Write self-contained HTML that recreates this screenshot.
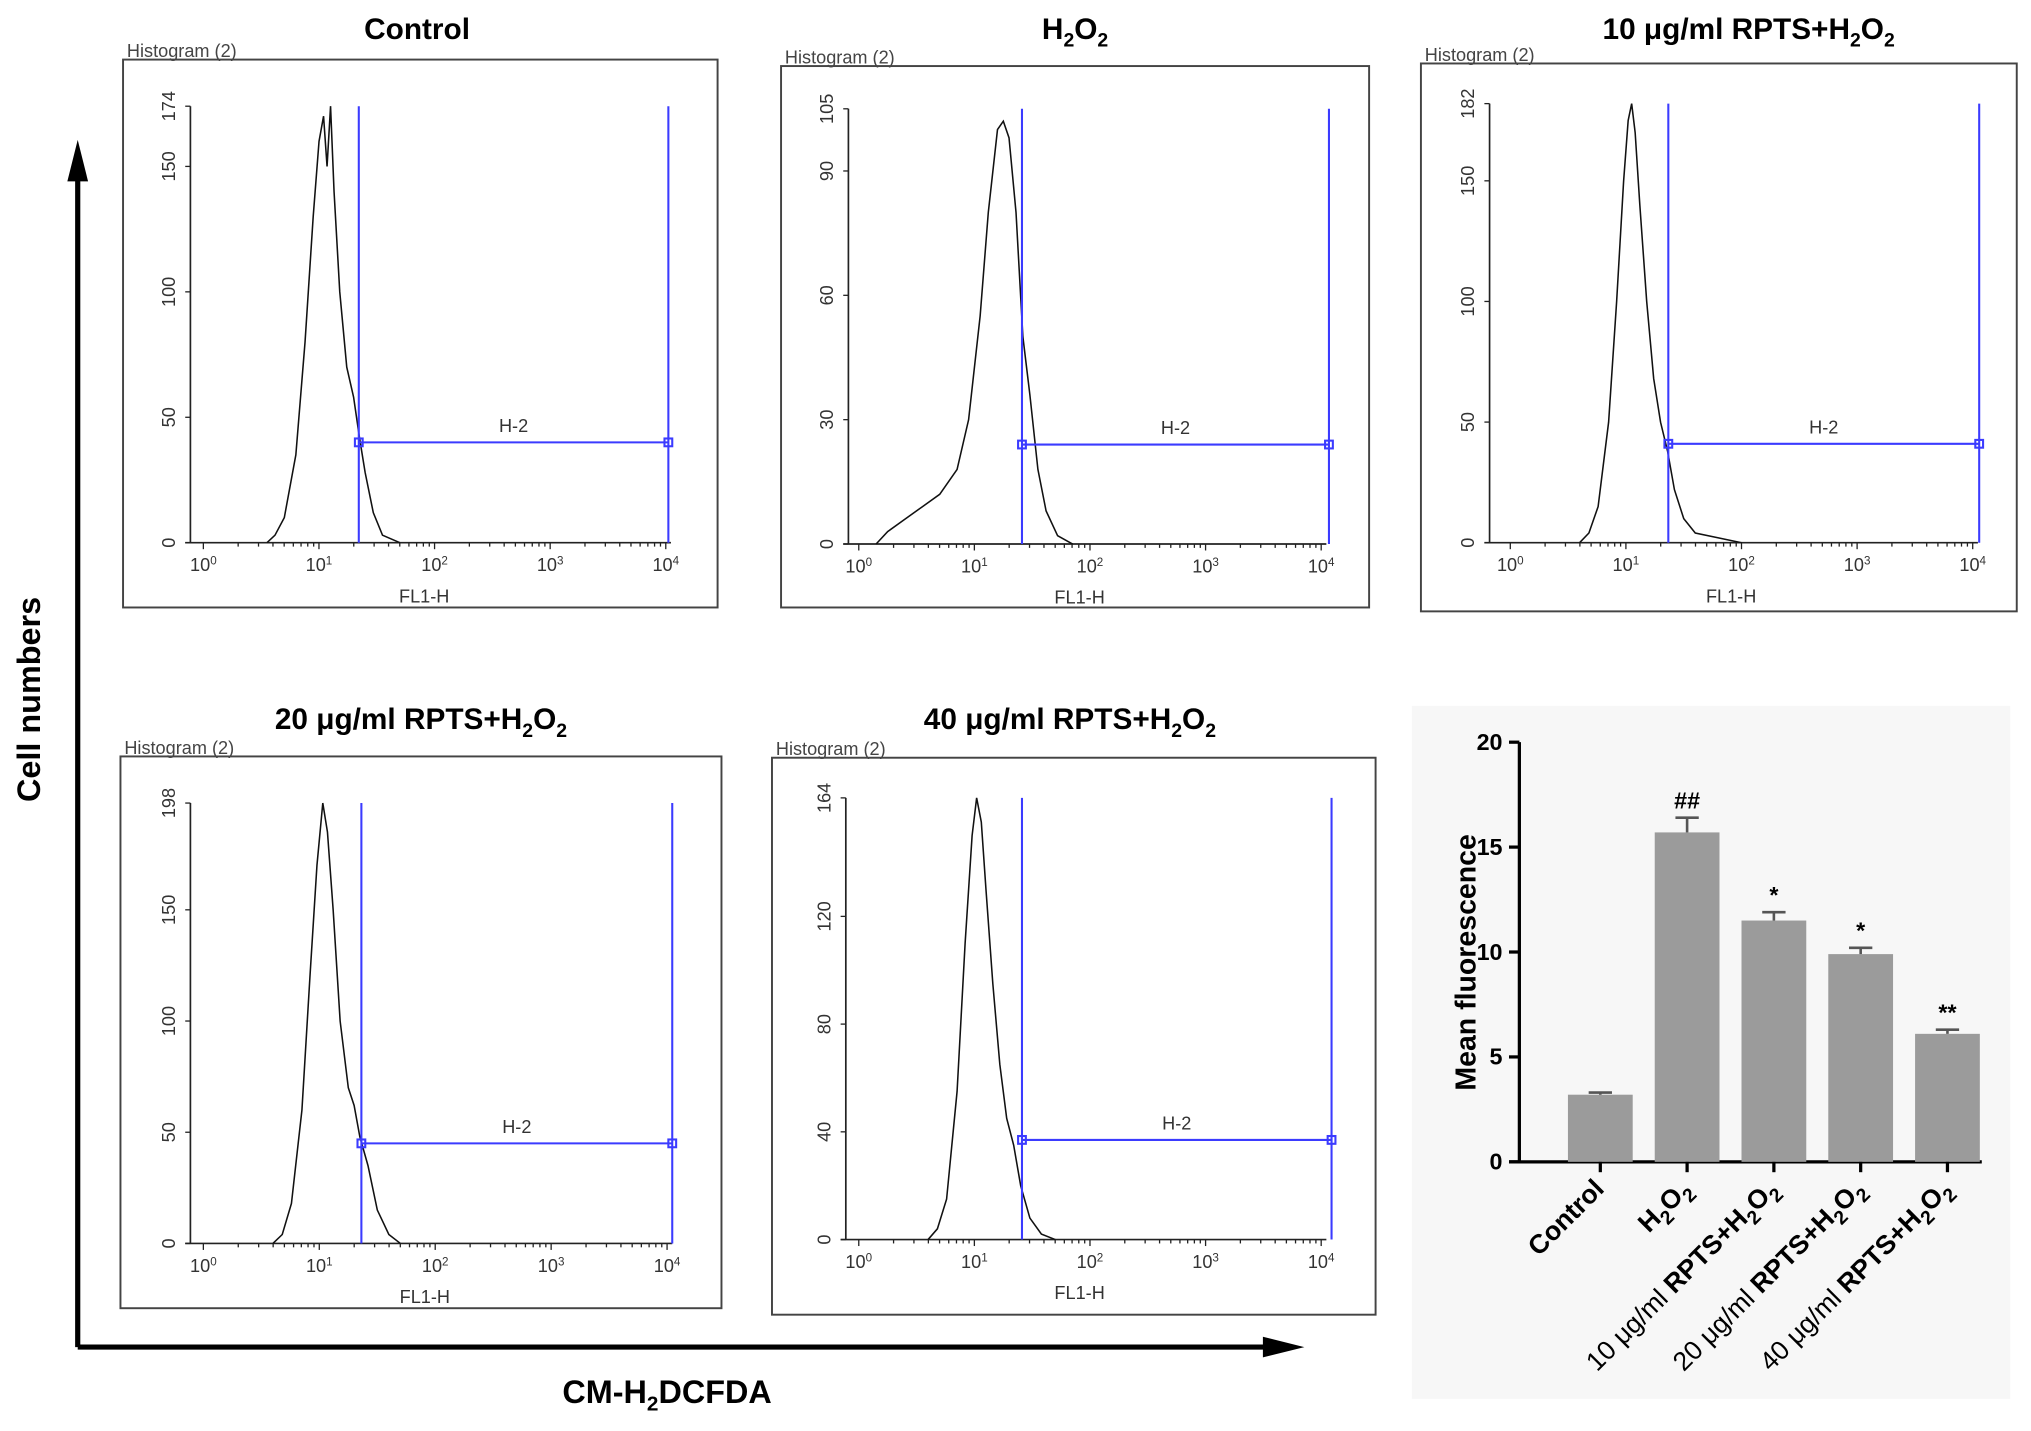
<!DOCTYPE html>
<html><head><meta charset="utf-8"><style>
html,body{margin:0;padding:0;background:#fff;width:2031px;height:1431px;overflow:hidden}
svg{display:block;font-family:"Liberation Sans",Arial,sans-serif}
</style></head><body>
<svg id="fig" width="2031" height="1431" viewBox="0 0 1568 1104.8" preserveAspectRatio="none" xmlns="http://www.w3.org/2000/svg">
<rect x="1090" y="545" width="462" height="535" fill="#f7f7f7"/>
<g>
<line x1="60" y1="1040" x2="60" y2="130" stroke="#000" stroke-width="4"/>
<polygon points="52,140 68,140 60,108" fill="#000"/>
</g>
<g>
<line x1="60" y1="1040" x2="985" y2="1040" stroke="#000" stroke-width="4"/>
<polygon points="975,1032 975,1048 1007,1040" fill="#000"/>
</g>
<text x="31" y="540" transform="rotate(-90 31 540)" text-anchor="middle" font-size="25" font-weight="bold">Cell numbers</text>
<text x="515" y="1083" text-anchor="middle" font-size="25" font-weight="bold">CM-H<tspan font-size="16" dy="6">2</tspan><tspan dy="-6">DCFDA</tspan></text>
<g id="hists"></g>
<g id="bars"></g>
</svg>
<script>
// ---- Histogram data ----
const histTitles = ["Control","H2O2","10 μg/ml RPTS+H2O2","20 μg/ml RPTS+H2O2","40 μg/ml RPTS+H2O2"];
const histMax = [174,105,182,198,164];
const histTicks = [[0,50,100,150,174],[0,30,60,90,105],[0,50,100,150,182],[0,50,100,150,198],[0,40,80,120,164]];
const gateLevels = [40,24,41,45,37];
const curveControl = [[0.55,0],[0.62,3],[0.7,10],[0.8,35],[0.88,80],[0.95,130],[1.0,160],[1.04,170],[1.07,150],[1.1,174],[1.13,140],[1.18,100],[1.24,70],[1.3,58],[1.35,42],[1.4,28],[1.47,12],[1.55,3],[1.7,0]];
const curveH2O2 = [[0.15,0],[0.25,3],[0.4,6],[0.55,9],[0.7,12],[0.85,18],[0.95,30],[1.05,55],[1.12,80],[1.2,100],[1.25,102],[1.3,98],[1.36,80],[1.42,50],[1.48,36],[1.55,18],[1.62,8],[1.72,2],[1.85,0]];
const curve10 = [[0.6,0],[0.68,4],[0.76,15],[0.85,50],[0.92,100],[0.98,150],[1.02,175],[1.05,182],[1.08,170],[1.12,140],[1.18,100],[1.24,68],[1.3,50],[1.36,38],[1.42,22],[1.5,10],[1.6,4],[1.8,2],[2.0,0]];
const curve20 = [[0.6,0],[0.68,4],[0.76,18],[0.85,60],[0.92,120],[0.98,170],[1.03,198],[1.07,185],[1.12,150],[1.18,100],[1.25,70],[1.3,62],[1.35,48],[1.42,35],[1.5,15],[1.6,4],[1.7,0]];
const curve40 = [[0.6,0],[0.68,4],[0.76,15],[0.85,55],[0.92,110],[0.98,150],[1.02,164],[1.06,155],[1.1,130],[1.16,95],[1.22,65],[1.28,45],[1.34,35],[1.4,20],[1.48,8],[1.58,2],[1.7,0]];
const histCurves = [curveControl,curveH2O2,curve10,curve20,curve40];
// layout (not data)
const boxes = [
 {bx:95,by:46,bw:459,bh:423,ax:147,top:82,bot:419,x0:157,x4:514,gx:[277,516],tx:322,ty:30},
 {bx:603,by:51,bw:454,bh:418,ax:655,top:84,bot:420,x0:663,x4:1020,gx:[789,1026],tx:830,ty:30},
 {bx:1097,by:49,bw:460,bh:423,ax:1150,top:80,bot:419,x0:1166,x4:1523,gx:[1288,1528],tx:1350,ty:30},
 {bx:93,by:584,bw:464,bh:426,ax:147,top:620,bot:960,x0:157,x4:515,gx:[279,519],tx:325,ty:563},
 {bx:596,by:585,bw:466,bh:430,ax:653,top:616,bot:957,x0:663,x4:1020,gx:[789,1028],tx:826,ty:563}];
const NS="http://www.w3.org/2000/svg";
function mk(tag,attrs,parent){const e=document.createElementNS(NS,tag);for(const k in attrs)e.setAttribute(k,attrs[k]);parent.appendChild(e);return e;}
function titleSpans(el,t,sub){
  const ss=sub||"15";
  const parts=t.split(/(H2O2)/);
  parts.forEach(p=>{
    if(p==="H2O2"){
      const a=mk("tspan",{},el);a.textContent="H";
      const b=mk("tspan",{"font-size":ss,dy:"6"},el);b.textContent="2";
      const c=mk("tspan",{dy:"-6"},el);c.textContent="O";
      const d=mk("tspan",{"font-size":ss,dy:"6"},el);d.textContent="2";
      const z=mk("tspan",{dy:"-6"},el);z.textContent="";
    } else if(p){const s=mk("tspan",{},el);s.textContent=p;}
  });
}
const hg=document.getElementById("hists");
histTitles.forEach((t,i)=>{
  const L=boxes[i];
  const g=mk("g",{},hg);
  
  
  const xs=v=>L.x0+(L.x4-L.x0)*v/4;
  const ys=v=>L.bot-(L.bot-L.top)*v/histMax[i];
  const tt=mk("text",{x:L.tx,y:L.ty,"text-anchor":"middle","font-size":"23","font-weight":"bold"},g);
  
  
  titleSpans(tt,t);
  const ht=mk("text",{x:L.bx+3,y:L.by-2,"font-size":"14",fill:"#444"},g);ht.textContent="Histogram (2)";
  
  
  const bx=mk("rect",{x:L.bx,y:L.by,width:L.bw,height:L.bh,fill:"none",stroke:"#444","stroke-width":"1.5"},g);
  
  
  mk("line",{x1:L.ax,y1:L.top,x2:L.ax,y2:L.bot,stroke:"#222","stroke-width":"1.3"},g);
  mk("line",{x1:L.ax-4,y1:L.bot,x2:L.x4+4,y2:L.bot,stroke:"#222","stroke-width":"1.3"},g);
  histTicks[i].forEach(v=>{
    const y=ys(v);
    mk("line",{x1:L.ax-4,y1:y,x2:L.ax,y2:y,stroke:"#222"},g);
    const tx=mk("text",{x:L.ax-12,y:y,transform:`rotate(-90 ${L.ax-12} ${y})`,"text-anchor":"middle","font-size":"14",fill:"#333"},g);
    tx.textContent=v;
    
    
  });
  for(let d=0;d<=4;d++){
    const x=xs(d);
    mk("line",{x1:x,y1:L.bot,x2:x,y2:L.bot+5,stroke:"#222"},g);
    if(d<4)for(let m=2;m<10;m++){const xm=xs(d+Math.log10(m));mk("line",{x1:xm,y1:L.bot,x2:xm,y2:L.bot+3,stroke:"#222"},g);}
    const lt=mk("text",{x:x,y:L.bot+22,"text-anchor":"middle","font-size":"14",fill:"#333"},g);
    
    
    const a=mk("tspan",{},lt);a.textContent="10";
    const b=mk("tspan",{"font-size":"9",dy:"-5"},lt);b.textContent=String(d);
  }
  const fl=mk("text",{x:(L.x0+L.x4)/2-8,y:L.bot+46,"text-anchor":"middle","font-size":"14",fill:"#333"},g);fl.textContent="FL1-H";
  
  
  const pts=histCurves[i].map(p=>xs(p[0]).toFixed(1)+","+ys(p[1]).toFixed(1)).join(" ");
  const pl=mk("polyline",{points:pts,fill:"none",stroke:"#111","stroke-width":"1.2"},g);
  
  
  const gy=ys(gateLevels[i]);
  const gg=mk("g",{stroke:"#3b3bff","stroke-width":"1.6",fill:"none"},g);
  
  
  mk("line",{x1:L.gx[0],y1:L.top,x2:L.gx[0],y2:L.bot},gg);
  mk("line",{x1:L.gx[1],y1:L.top,x2:L.gx[1],y2:L.bot},gg);
  mk("line",{x1:L.gx[0],y1:gy,x2:L.gx[1],y2:gy},gg);
  mk("rect",{x:L.gx[0]-3,y:gy-3,width:6,height:6},gg);
  mk("rect",{x:L.gx[1]-3,y:gy-3,width:6,height:6},gg);
  const h2=mk("text",{x:(L.gx[0]+L.gx[1])/2,y:gy-8,"text-anchor":"middle","font-size":"14",fill:"#333"},g);h2.textContent="H-2";
  
  
});

// ---- Bar chart data ----
const barCats = ["Control","H2O2","10 μg/ml RPTS+H2O2","20 μg/ml RPTS+H2O2","40 μg/ml RPTS+H2O2"];
const barVals = [3.2,15.7,11.5,9.9,6.1];
const barErr = [0.1,0.7,0.4,0.3,0.2];
const barSig = ["","##","*","*","**"];
const barTicks = [0,5,10,15,20];
const bg=document.getElementById("bars");
const AX=1173,TOP=573,BOT=897,X0=1202,STEP=67,BW=50;
const by=v=>BOT-(BOT-TOP)*v/20;
const bx=i=>X0+STEP*(i+0.5);
mk("line",{x1:AX,y1:TOP,x2:AX,y2:BOT,stroke:"#000","stroke-width":"2.5"},bg);
mk("line",{x1:AX-8,y1:BOT,x2:1530,y2:BOT,stroke:"#000","stroke-width":"2.5"},bg);
barTicks.forEach(v=>{
  mk("line",{x1:AX-8,y1:by(v),x2:AX,y2:by(v),stroke:"#000","stroke-width":"2.5"},bg);
  const t=mk("text",{x:AX-13,y:by(v)+6,"text-anchor":"end","font-size":"18","font-weight":"bold"},bg);t.textContent=v;
  
  
});
const yl=mk("text",{x:1139,y:743,transform:"rotate(-90 1139 743)","text-anchor":"middle","font-size":"22","font-weight":"bold"},bg);yl.textContent="Mean fluorescence";


barCats.forEach((c,i)=>{
  const x=bx(i),y=by(barVals[i]),ye=by(barVals[i]+barErr[i]);
  const r=mk("rect",{x:x-BW/2,y:y,width:BW,height:BOT-y,fill:"#9b9b9b"},bg);
  
  
  mk("line",{x1:x,y1:y,x2:x,y2:ye,stroke:"#555","stroke-width":"2"},bg);
  mk("line",{x1:x-9,y1:ye,x2:x+9,y2:ye,stroke:"#555","stroke-width":"2"},bg);
  mk("line",{x1:x,y1:BOT,x2:x,y2:BOT+8,stroke:"#000","stroke-width":"2.5"},bg);
  if(barSig[i]){const s=mk("text",{x:x,y:ye-7,"text-anchor":"middle","font-size":"18","font-weight":"bold"},bg);s.textContent=barSig[i];
    
    }
  const lx=x+4,ly=BOT+22;
  const t=mk("text",{x:lx,y:ly,transform:`rotate(-45 ${lx} ${ly})`,"text-anchor":"end","font-size":"20.5","font-weight":"bold"},bg);
  
  
  const m=c.match(/^(\d+ μg\/ml )(.*)$/);
  if(m){const a=mk("tspan",{"font-weight":"normal"},t);a.textContent=m[1];titleSpans(t,m[2],"15");}
  else titleSpans(t,c,"15");
});
</script>
</body></html>
